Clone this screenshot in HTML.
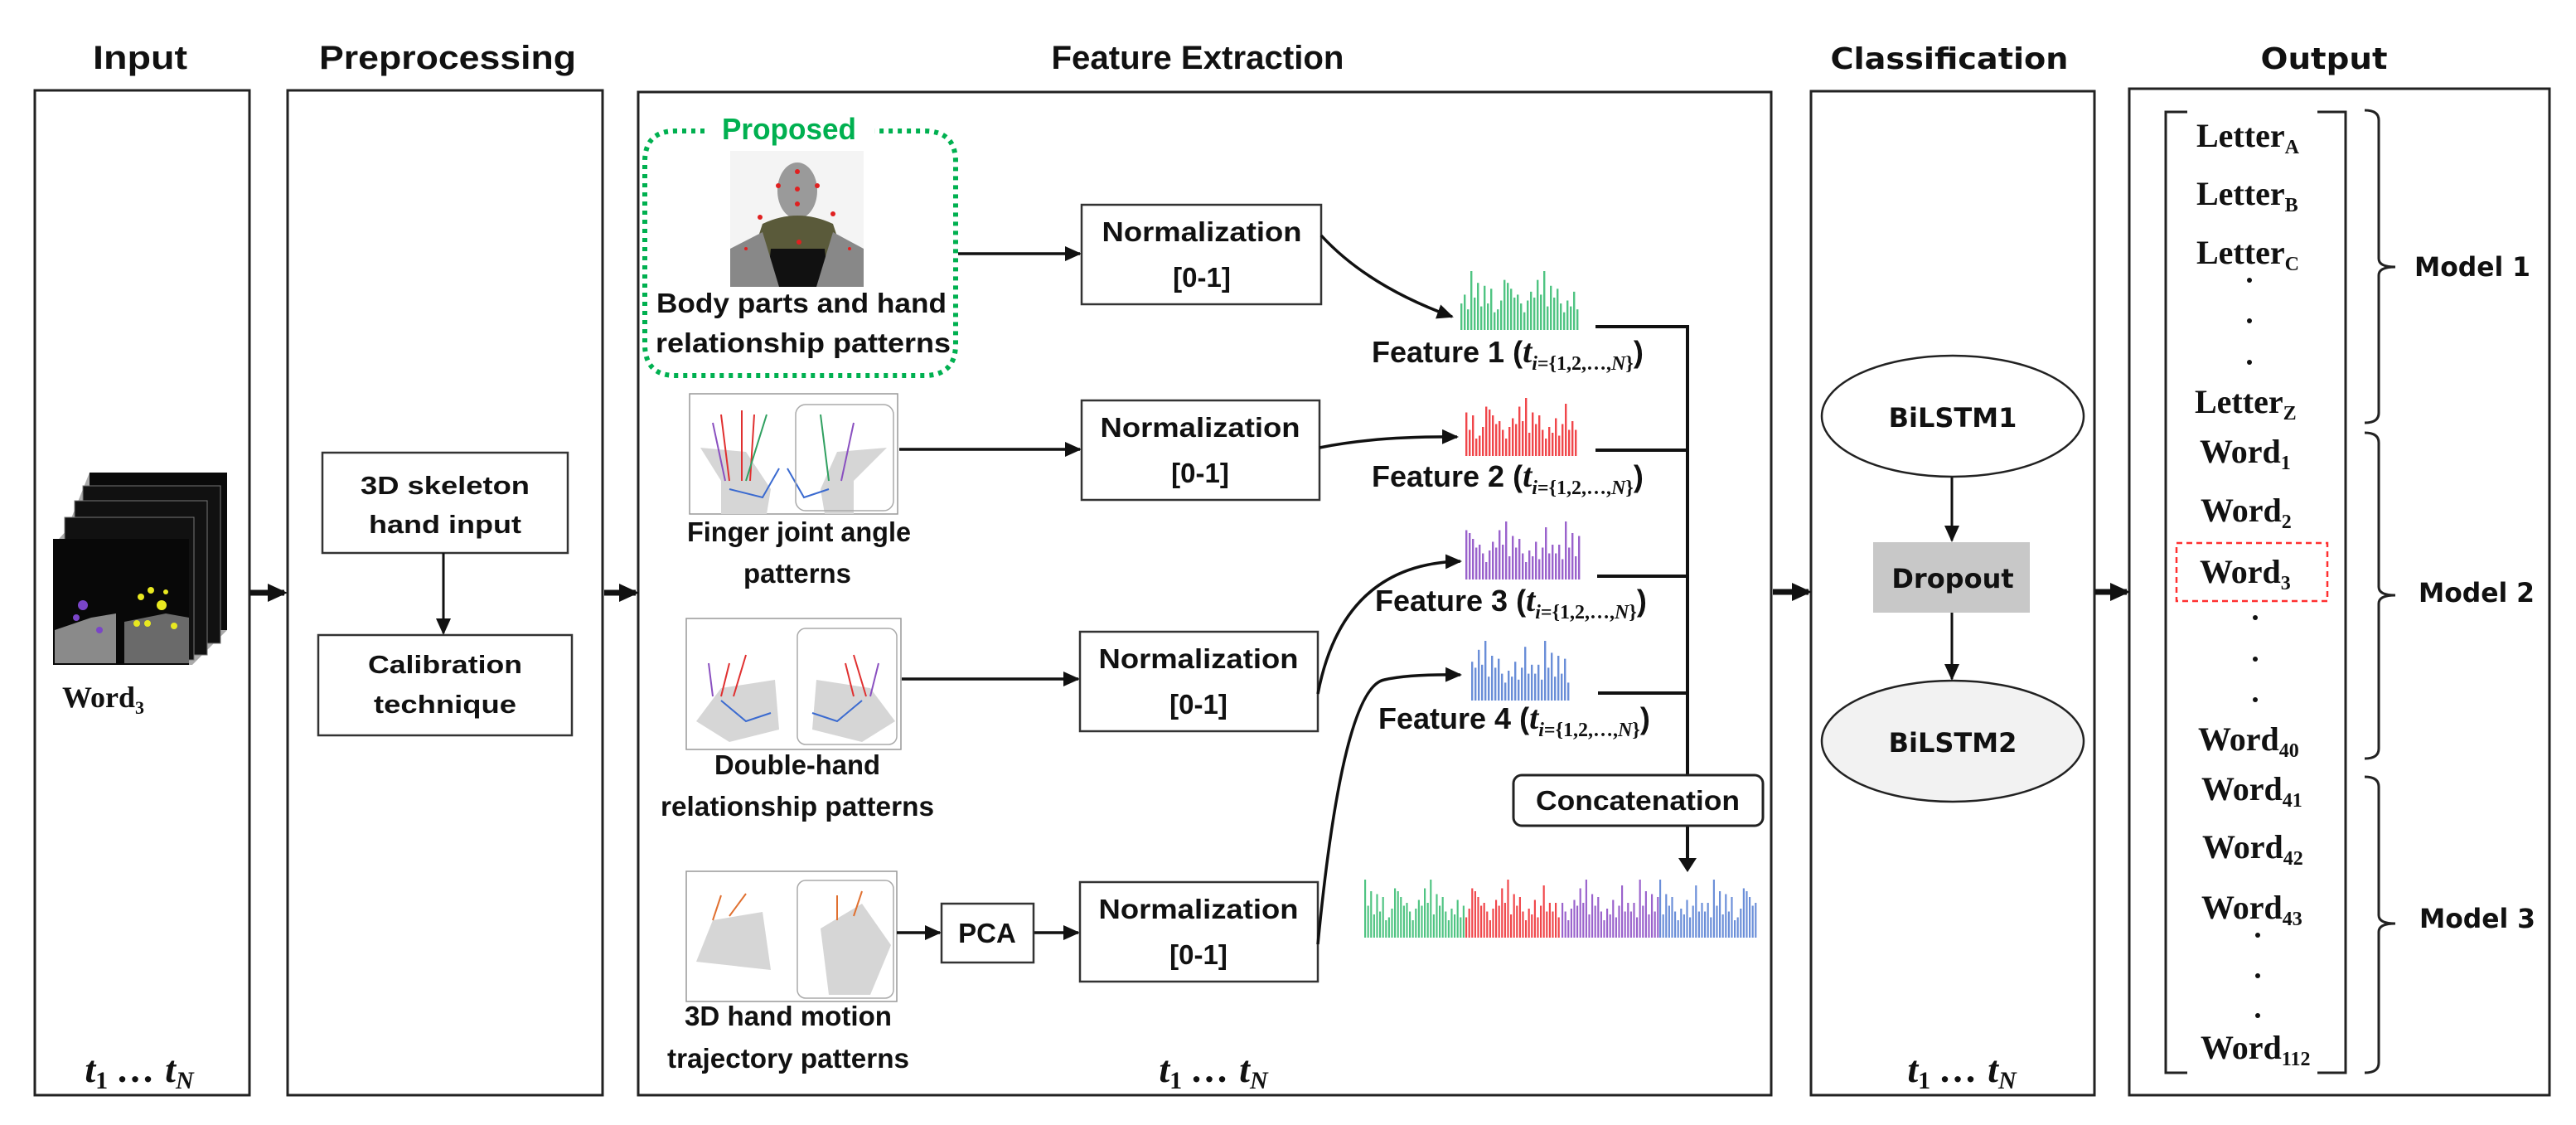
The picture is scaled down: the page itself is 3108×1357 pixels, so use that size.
<!DOCTYPE html>
<html><head><meta charset="utf-8"><style>
html,body{margin:0;padding:0;background:#fff;}
svg{display:block;}
.t{font-family:"Liberation Sans",sans-serif;font-weight:bold;fill:#111;}
.s{font-family:"Liberation Serif",serif;font-weight:bold;fill:#111;}
.v{font-family:"DejaVu Sans","Liberation Sans",sans-serif;font-weight:bold;fill:#111;}
</style></head><body>
<svg id="sv" width="3108" height="1357" viewBox="0 0 3108 1357" xmlns="http://www.w3.org/2000/svg">
<defs>
<marker id="ah" markerWidth="10" markerHeight="10" refX="8" refY="5" orient="auto" markerUnits="userSpaceOnUse" viewBox="0 0 10 10"><path d="M0,0 L10,5 L0,10 z" fill="#111"/></marker>
<marker id="ab" markerWidth="24" markerHeight="22" refX="20" refY="11" orient="auto" markerUnits="userSpaceOnUse"><path d="M0,0 L24,11 L0,22 z" fill="#111"/></marker>
<marker id="am" markerWidth="20" markerHeight="18" refX="18" refY="9" orient="auto" markerUnits="userSpaceOnUse"><path d="M0,0 L20,9 L0,18 z" fill="#111"/></marker>
</defs>

<!-- Titles -->
<text class="t" x="169" y="83" font-size="40" text-anchor="middle" textLength="114" lengthAdjust="spacingAndGlyphs">Input</text>
<text class="t" x="540" y="83" font-size="40" text-anchor="middle" textLength="310" lengthAdjust="spacingAndGlyphs">Preprocessing</text>
<text class="t" x="1445" y="83" font-size="40" text-anchor="middle" textLength="353" lengthAdjust="spacingAndGlyphs">Feature Extraction</text>
<text class="v" x="2352" y="83" font-size="36" text-anchor="middle" textLength="287" lengthAdjust="spacingAndGlyphs">Classification</text>
<text class="v" x="2804" y="83" font-size="36" text-anchor="middle" textLength="153" lengthAdjust="spacingAndGlyphs">Output</text>

<!-- Main boxes -->
<g fill="none" stroke="#222" stroke-width="3">
<rect x="42" y="109" width="259" height="1212"/>
<rect x="347" y="109" width="380" height="1212"/>
<rect x="770" y="111" width="1367" height="1210"/>
<rect x="2185" y="110" width="342" height="1211"/>
<rect x="2569" y="107" width="507" height="1214"/>
</g>

<!-- inter-box arrows -->
<g stroke="#111" stroke-width="7" marker-end="url(#ab)">
<line x1="302" y1="715" x2="343" y2="715"/>
<line x1="729" y1="715" x2="767" y2="715"/>
<line x1="2139" y1="714" x2="2182" y2="714"/>
<line x1="2528" y1="714" x2="2566" y2="714"/>
</g>

<!-- Input stack -->
<g>
<path d="M108 570 L274 570 L274 760 L232 802 L64 802 L64 658 L80 640 L92 610 L100 590 Z" fill="#aaa"/>
<rect x="108" y="570" width="166" height="190" fill="#0a0a0a"/>
<rect x="100" y="586" width="166" height="190" fill="#111" stroke="#777" stroke-width="1"/>
<rect x="90" y="604" width="160" height="186" fill="#111" stroke="#777" stroke-width="1"/>
<rect x="78" y="624" width="156" height="172" fill="#111" stroke="#777" stroke-width="1"/>
<rect x="64" y="650" width="164" height="152" fill="#080808"/>
<path d="M66 760 L110 745 L140 740 L140 800 L66 800 Z" fill="#8a8a8a"/>
<path d="M150 750 L200 740 L228 745 L228 800 L150 800 Z" fill="#6a6a6a"/>
<circle cx="100" cy="730" r="6" fill="#7a45c8"/><circle cx="92" cy="745" r="4" fill="#7a45c8"/><circle cx="120" cy="760" r="4" fill="#7a45c8"/>
<g fill="#e8e820"><circle cx="170" cy="720" r="4"/><circle cx="182" cy="712" r="4"/><circle cx="195" cy="730" r="6"/><circle cx="165" cy="752" r="4"/><circle cx="178" cy="752" r="4"/><circle cx="210" cy="755" r="4"/><circle cx="200" cy="714" r="3"/></g>
</g>
<text class="s" x="75" y="853" font-size="36">Word<tspan font-size="22" dy="8">3</tspan></text>
<text class="s" x="168" y="1305" font-size="46" font-style="italic" text-anchor="middle">t<tspan font-size="30" font-style="normal" dy="8">1</tspan><tspan dy="-8"> … t</tspan><tspan font-size="30" dy="8">N</tspan></text>

<!-- Preprocessing -->
<rect x="389" y="546" width="296" height="121" fill="#fff" stroke="#333" stroke-width="2.5"/>
<rect x="384" y="766" width="306" height="121" fill="#fff" stroke="#333" stroke-width="2.5"/>
<line x1="535" y1="667" x2="535" y2="764" stroke="#111" stroke-width="3" marker-end="url(#am)"/>
<text class="t" x="537" y="596" font-size="31" text-anchor="middle" textLength="204" lengthAdjust="spacingAndGlyphs">3D skeleton</text>
<text class="t" x="537" y="643" font-size="31" text-anchor="middle" textLength="184" lengthAdjust="spacingAndGlyphs">hand input</text>
<text class="t" x="537" y="812" font-size="31" text-anchor="middle" textLength="186" lengthAdjust="spacingAndGlyphs">Calibration</text>
<text class="t" x="537" y="860" font-size="31" text-anchor="middle" textLength="172" lengthAdjust="spacingAndGlyphs">technique</text>
<text class="s" x="1464" y="1305" font-size="46" font-style="italic" text-anchor="middle">t<tspan font-size="30" font-style="normal" dy="8">1</tspan><tspan dy="-8"> … t</tspan><tspan font-size="30" dy="8">N</tspan></text>
<text class="s" x="2367" y="1305" font-size="46" font-style="italic" text-anchor="middle">t<tspan font-size="30" font-style="normal" dy="8">1</tspan><tspan dy="-8"> … t</tspan><tspan font-size="30" dy="8">N</tspan></text>

<!-- Proposed dotted box -->
<path d="M850 158 L815 158 Q778 158 778 195 L778 415 Q778 453 815 453 L1115 453 Q1153 453 1153 415 L1153 195 Q1153 158 1115 158 L1055 158" fill="none" stroke="#00b050" stroke-width="6" stroke-dasharray="5 6"/>
<text x="952" y="168" font-family="Liberation Sans,sans-serif" font-weight="bold" font-size="36" fill="#00b050" text-anchor="middle" textLength="162" lengthAdjust="spacingAndGlyphs">Proposed</text>
<!-- body photo -->
<rect x="881" y="182" width="161" height="164" fill="#f4f4f4"/>
<ellipse cx="962" cy="230" rx="24" ry="34" fill="#9a9a9a"/>
<path d="M920 270 Q962 250 1005 270 L1030 346 L895 346 Z" fill="#5a5a3a"/>
<path d="M930 300 L995 300 L1000 346 L925 346 Z" fill="#111"/>
<path d="M881 300 L920 280 L940 346 L881 346 Z" fill="#888"/>
<path d="M1042 300 L1005 280 L985 346 L1042 346 Z" fill="#888"/>
<g fill="#e02020"><circle cx="962" cy="207" r="3"/><circle cx="962" cy="228" r="3"/><circle cx="939" cy="224" r="3"/><circle cx="986" cy="224" r="3"/><circle cx="962" cy="246" r="3"/><circle cx="917" cy="262" r="3"/><circle cx="1005" cy="258" r="3"/><circle cx="964" cy="292" r="3"/><circle cx="900" cy="300" r="2"/><circle cx="1025" cy="300" r="2"/></g>
<text class="t" x="967" y="377" font-size="33" text-anchor="middle" textLength="350" lengthAdjust="spacingAndGlyphs">Body parts and hand</text>
<text class="t" x="969" y="425" font-size="33" text-anchor="middle" textLength="356" lengthAdjust="spacingAndGlyphs">relationship patterns</text>

<!-- hand diagrams -->
<g stroke="#999" stroke-width="1.5" fill="#fff">
<rect x="832" y="475" width="251" height="145"/>
<rect x="828" y="746" width="259" height="158"/>
<rect x="828" y="1051" width="254" height="157"/>
</g>
<g fill="#d6d6d6">
<path d="M870 620 L870 580 L845 540 L900 545 L930 590 L925 620 Z"/>
<path d="M1030 620 L1030 580 L1070 540 L1010 545 L990 590 L995 620 Z"/>
<path d="M840 870 L870 830 L935 820 L940 880 L880 895 Z"/>
<path d="M1080 870 L1050 830 L985 820 L980 880 L1040 895 Z"/>
<path d="M840 1160 L860 1110 L920 1100 L930 1170 Z"/>
<path d="M1000 1200 L990 1120 L1040 1090 L1075 1140 L1050 1200 Z"/>
</g>
<g fill="none" stroke-width="2">
<path d="M880 580 L870 500 M895 580 L895 495 M905 580 L910 500" stroke="#e03030"/>
<path d="M875 580 L860 510 M1015 580 L1030 510" stroke="#8a50c0"/>
<path d="M900 580 L925 500 M1000 580 L990 500" stroke="#30a060"/>
<path d="M880 590 L920 600 L940 565 M1000 590 L970 600 L950 565" stroke="#3a6ad0"/>
<path d="M870 840 L880 800 M885 840 L900 790 M1030 840 L1020 800 M1045 840 L1030 790" stroke="#e03030"/>
<path d="M860 840 L855 800 M1050 840 L1060 800" stroke="#8a50c0"/>
<path d="M870 845 L900 870 L930 860 M1040 845 L1010 870 L980 860" stroke="#3a6ad0"/>
<path d="M860 1110 L870 1080 M880 1105 L900 1078 M1010 1110 L1010 1080 M1030 1105 L1040 1075" stroke="#e07030"/>
</g>
<g fill="none" stroke="#aaa" stroke-width="1.5">
<rect x="960" y="488" width="118" height="128" rx="12"/>
<rect x="962" y="758" width="120" height="140" rx="10"/>
<rect x="962" y="1062" width="116" height="142" rx="10"/>
</g>
<text class="t" x="964" y="653" font-size="33" text-anchor="middle" textLength="270" lengthAdjust="spacingAndGlyphs">Finger joint angle</text>
<text class="t" x="962" y="703" font-size="33" text-anchor="middle" textLength="130" lengthAdjust="spacingAndGlyphs">patterns</text>
<text class="t" x="962" y="934" font-size="33" text-anchor="middle" textLength="200" lengthAdjust="spacingAndGlyphs">Double-hand</text>
<text class="t" x="962" y="984" font-size="33" text-anchor="middle" textLength="330" lengthAdjust="spacingAndGlyphs">relationship patterns</text>
<text class="t" x="951" y="1237" font-size="33" text-anchor="middle" textLength="250" lengthAdjust="spacingAndGlyphs">3D hand motion</text>
<text class="t" x="951" y="1288" font-size="33" text-anchor="middle" textLength="292" lengthAdjust="spacingAndGlyphs">trajectory patterns</text>

<!-- Arrows to normalization -->
<g stroke="#111" stroke-width="3.5" fill="none" marker-end="url(#am)">
<line x1="1156" y1="306" x2="1303" y2="306"/>
<line x1="1085" y1="542" x2="1303" y2="542"/>
<line x1="1088" y1="819" x2="1301" y2="819"/>
<line x1="1082" y1="1125" x2="1134" y2="1125"/>
<line x1="1247" y1="1125" x2="1301" y2="1125"/>
</g>
<rect x="1136" y="1090" width="111" height="71" fill="#fff" stroke="#333" stroke-width="2.5"/>
<text class="t" x="1191" y="1137" font-size="33" text-anchor="middle">PCA</text>

<g fill="#fff" stroke="#333" stroke-width="2.5">
<rect x="1305" y="247" width="289" height="120"/>
<rect x="1305" y="483" width="287" height="120"/>
<rect x="1303" y="762" width="287" height="120"/>
<rect x="1303" y="1064" width="287" height="120"/>
</g>
<g class="t" font-size="33" text-anchor="middle">
<text x="1450" y="291" textLength="241" lengthAdjust="spacingAndGlyphs">Normalization</text><text x="1450" y="346">[0-1]</text>
<text x="1448" y="527" textLength="241" lengthAdjust="spacingAndGlyphs">Normalization</text><text x="1448" y="582">[0-1]</text>
<text x="1446" y="806" textLength="241" lengthAdjust="spacingAndGlyphs">Normalization</text><text x="1446" y="861">[0-1]</text>
<text x="1446" y="1108" textLength="241" lengthAdjust="spacingAndGlyphs">Normalization</text><text x="1446" y="1163">[0-1]</text>
</g>

<!-- curves -->
<g stroke="#111" stroke-width="3.5" fill="none" marker-end="url(#am)">
<path d="M1594 284 Q1650 345 1752 382"/>
<path d="M1592 540 Q1660 526 1758 527"/>
<path d="M1590 837 Q1620 680 1762 677"/>
<path d="M1590 1139 Q1620 830 1670 820 Q1700 813 1762 814"/>
</g>

<!-- bars -->
<g id="bars"></g>

<!-- Feature labels -->
<g class="t" font-size="36">
<text x="1655" y="437">Feature 1 (<tspan class="s" font-style="italic" font-size="40">t</tspan><tspan class="s" font-size="24" dy="9"><tspan font-style="italic">i</tspan>={1,2,…,<tspan font-style="italic">N</tspan>}</tspan><tspan dy="-9">)</tspan></text>
<text x="1655" y="587">Feature 2 (<tspan class="s" font-style="italic" font-size="40">t</tspan><tspan class="s" font-size="24" dy="9"><tspan font-style="italic">i</tspan>={1,2,…,<tspan font-style="italic">N</tspan>}</tspan><tspan dy="-9">)</tspan></text>
<text x="1659" y="737">Feature 3 (<tspan class="s" font-style="italic" font-size="40">t</tspan><tspan class="s" font-size="24" dy="9"><tspan font-style="italic">i</tspan>={1,2,…,<tspan font-style="italic">N</tspan>}</tspan><tspan dy="-9">)</tspan></text>
<text x="1663" y="879">Feature 4 (<tspan class="s" font-style="italic" font-size="40">t</tspan><tspan class="s" font-size="24" dy="9"><tspan font-style="italic">i</tspan>={1,2,…,<tspan font-style="italic">N</tspan>}</tspan><tspan dy="-9">)</tspan></text>
</g>

<!-- concat lines -->
<g stroke="#111" stroke-width="4" fill="none">
<polyline points="1925,394 2036,394 2036,1046"/>
<line x1="1925" y1="543" x2="2036" y2="543"/>
<line x1="1927" y1="695" x2="2036" y2="695"/>
<line x1="1928" y1="836" x2="2036" y2="836"/>
</g>
<path d="M2025 1035 L2047 1035 L2036 1052 Z" fill="#111"/>
<rect x="1826" y="935" width="301" height="61" rx="10" fill="#fff" stroke="#222" stroke-width="3"/>
<text class="t" x="1976" y="977" font-size="33" text-anchor="middle" textLength="246" lengthAdjust="spacingAndGlyphs">Concatenation</text>

<!-- Classification -->
<ellipse cx="2356" cy="502" rx="158" ry="73" fill="#fff" stroke="#222" stroke-width="2.5"/>
<ellipse cx="2356" cy="894" rx="158" ry="73" fill="#f2f2f2" stroke="#222" stroke-width="2.5"/>
<rect x="2260" y="654" width="189" height="85" fill="#c8c8c8"/>
<text class="v" x="2356" y="515" font-size="32" text-anchor="middle">BiLSTM1</text>
<text class="v" x="2356" y="907" font-size="32" text-anchor="middle">BiLSTM2</text>
<text class="v" x="2356" y="709" font-size="32" text-anchor="middle">Dropout</text>
<g stroke="#111" stroke-width="3" marker-end="url(#am)">
<line x1="2355" y1="576" x2="2355" y2="652"/>
<line x1="2355" y1="739" x2="2355" y2="819"/>
</g>

<!-- Output -->
<g fill="none" stroke="#222" stroke-width="3">
<polyline points="2639,135 2613,135 2613,1294 2639,1294"/>
<polyline points="2796,135 2830,135 2830,1294 2796,1294"/>
<path d="M2853 133 Q2870 133 2870 145 L2870 312 Q2870 322 2890 322 Q2870 322 2870 332 L2870 498 Q2870 510 2853 510"/>
<path d="M2853 522 Q2870 522 2870 534 L2870 708 Q2870 718 2890 718 Q2870 718 2870 728 L2870 903 Q2870 915 2853 915"/>
<path d="M2853 937 Q2870 937 2870 949 L2870 1104 Q2870 1114 2890 1114 Q2870 1114 2870 1124 L2870 1282 Q2870 1294 2853 1294"/>
</g>
<rect x="2626" y="655" width="182" height="70" fill="none" stroke="#ff3030" stroke-width="2.5" stroke-dasharray="7 5"/>
<g class="s" font-size="40">
<text x="2650" y="177">Letter<tspan font-size="24" dy="8">A</tspan></text>
<text x="2650" y="247">Letter<tspan font-size="24" dy="8">B</tspan></text>
<text x="2650" y="318">Letter<tspan font-size="24" dy="8">C</tspan></text>
<text x="2648" y="498">Letter<tspan font-size="24" dy="8">Z</tspan></text>
<text x="2654" y="558">Word<tspan font-size="24" dy="8">1</tspan></text>
<text x="2655" y="629">Word<tspan font-size="24" dy="8">2</tspan></text>
<text x="2654" y="703">Word<tspan font-size="24" dy="8">3</tspan></text>
<text x="2652" y="905">Word<tspan font-size="24" dy="8">40</tspan></text>
<text x="2656" y="965">Word<tspan font-size="24" dy="8">41</tspan></text>
<text x="2657" y="1035">Word<tspan font-size="24" dy="8">42</tspan></text>
<text x="2656" y="1108">Word<tspan font-size="24" dy="8">43</tspan></text>
<text x="2655" y="1277">Word<tspan font-size="24" dy="8">112</tspan></text>
</g>
<g fill="#111">
<circle cx="2714" cy="338" r="3"/><circle cx="2714" cy="387" r="3"/><circle cx="2714" cy="437" r="3"/>
<circle cx="2721" cy="745" r="3"/><circle cx="2721" cy="795" r="3"/><circle cx="2721" cy="844" r="3"/>
<circle cx="2724" cy="1128" r="3"/><circle cx="2724" cy="1177" r="3"/><circle cx="2724" cy="1225" r="3"/>
</g>
<g class="v" font-size="32">
<text x="2913" y="333" textLength="140" lengthAdjust="spacingAndGlyphs">Model 1</text>
<text x="2918" y="726" textLength="140" lengthAdjust="spacingAndGlyphs">Model 2</text>
<text x="2919" y="1119" textLength="140" lengthAdjust="spacingAndGlyphs">Model 3</text>
</g>
</svg>
<script>
(function(){
var g=document.getElementById('bars');var ns='http://www.w3.org/2000/svg';
var seq=[.45,.6,.35,1,.55,.8,.4,.75,.45,.7,.3,.35,.5,.85,.8,.7,.55,.6,.45,.3,.5,.65,.55,.85,.6,1,.4,.75,.55,.7,.45,.3,.5,.4,.65,.35,.55,.9,.45,.6];
function bars(x0,x1,base,h,col,off,pitch){
 var i=0;for(var x=x0;x<=x1;x+=pitch){var v=seq[(i+off)%seq.length];var r=document.createElementNS(ns,'rect');
 r.setAttribute('x',x);r.setAttribute('y',base-h*v);r.setAttribute('width',pitch*0.6);r.setAttribute('height',h*v);r.setAttribute('fill',col);g.appendChild(r);i++;}
}
bars(1762,1905,398,71,'#4fc482',0,4);
bars(1768,1902,550,70,'#f0464a',7,4);
bars(1768,1905,699,70,'#9a62cc',13,4);
bars(1775,1892,845,72,'#6a8ed8',21,4);
bars(1646,1766,1131,70,'#4fc482',3,3.6);
bars(1768,1882,1131,70,'#f0464a',11,3.6);
bars(1884,2000,1131,70,'#9a62cc',17,3.6);
bars(2002,2118,1131,70,'#6a8ed8',25,3.6);
})();
</script>
</body></html>
